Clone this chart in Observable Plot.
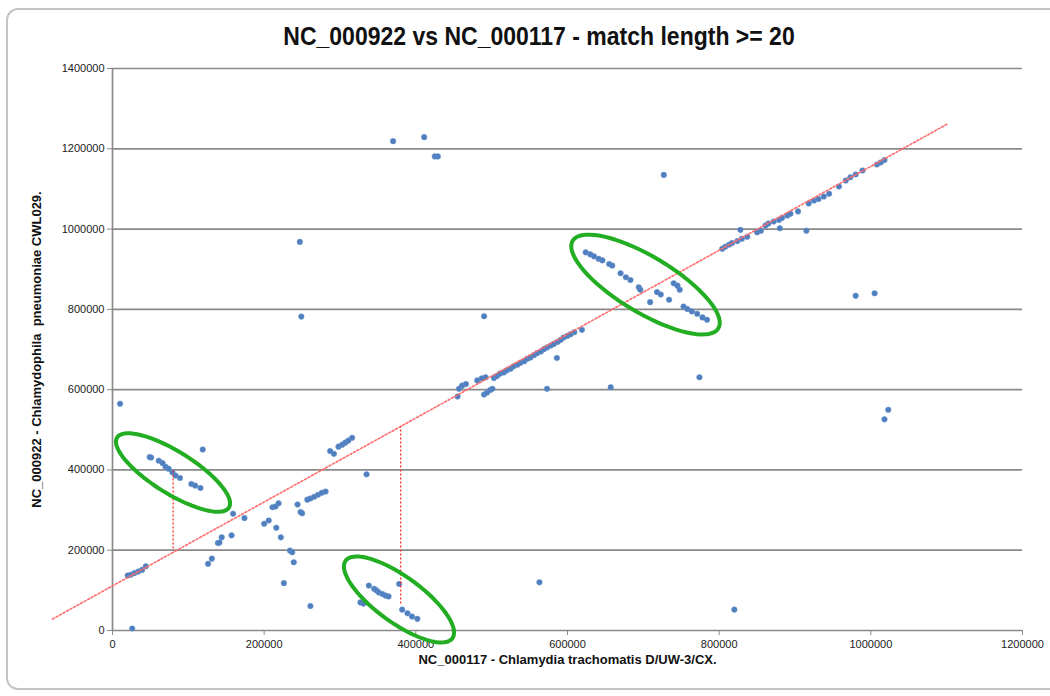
<!DOCTYPE html>
<html><head><meta charset="utf-8">
<script src="https://cdn.jsdelivr.net/npm/d3@7"></script>
<script src="https://cdn.jsdelivr.net/npm/@observablehq/plot@0.6"></script>
<style>
body{margin:0;background:#fff;}
#wrap{position:relative;width:1050px;height:696px;overflow:hidden;font-family:"Liberation Sans",Arial,sans-serif;}
#frame{position:absolute;left:6px;top:8px;width:1070px;height:682px;border:2px solid #c4c4c4;border-radius:12px;box-sizing:border-box;}
#title{position:absolute;left:0;top:22px;width:1078px;text-align:center;font-weight:bold;font-size:25px;color:#111;transform:scaleX(0.92);transform-origin:539px 0;}
#chart{position:absolute;left:0;top:0;}
</style></head>
<body>
<div id="wrap"><div id="frame"></div><div id="title">NC_000922 vs NC_000117 - match length &gt;= 20</div><div id="chart"></div></div>
<script>
// ---- data (x = position in NC_000117, y = position in NC_000922) ----
const xTicks = [0, 200000, 400000, 600000, 800000, 1000000, 1200000];
const yTicks = [0, 200000, 400000, 600000, 800000, 1000000, 1200000, 1400000];
const xTitle = "NC_000117 - Chlamydia trachomatis D/UW-3/CX.";
const yTitle = "NC_000922 - Chlamydophila  pneumoniae CWL029.";

const lowLeft = [[10000,565000],[20000,137000],[24000,139000],[29000,143000],[34000,147000],[39000,151000],[44000,160000],[26000,5000]];
const invertedA = [[49000,432000],[51000,431000],[61000,423000],[66000,417000],[70000,408000],[74000,403000],[79000,394000],[83000,386000],[89000,380000],[104000,365000],[109000,361000],[116000,355000]];
const leftScatter = [[119000,451000],[159000,291000],[174000,280000],[139000,218000],[141000,219000],[144000,232000],[157000,237000],[126000,166000],[131000,179000],
  [200000,266000],[206000,274000],[211000,307000],[215000,309000],[219000,317000],[216000,256000],[222000,232000],[234000,199000],[237000,195000],[239000,170000],
  [226000,118000],[261000,61000],[244000,314000],[248000,295000],[250000,292000],
  [257000,326000],[261000,329000],[266000,333000],[271000,338000],[276000,343000],[281000,346000],
  [287000,447000],[292000,440000],[298000,458000],[303000,463000],[307000,468000],[311000,473000],[316000,480000],[335000,389000]];
const invertedB = [[338000,112000],[345000,104000],[348000,100000],[351000,95000],[356000,91000],[360000,87000],[364000,85000],[327000,70000],[331000,67000],[378000,116000],
  [382000,52000],[389000,43000],[395000,35000],[402000,29000]];
const midScatter = [[490000,783000],[455000,583000],[457000,602000],[461000,610000],[466000,614000],[481000,623000],[487000,628000],[492000,631000],
  [490000,588000],[494000,593000],[498000,599000],[501000,602000],[586000,679000],[573000,602000],[657000,606000],[619000,749000],[774000,631000],[563000,120000],[820000,52000]];
const midDiagonal = [[503000,629000],[507000,634000],[511000,640000],[516000,643000],[520000,648000],[525000,652000],[529000,658000],[534000,662000],[538000,667000],
  [543000,671000],[547000,677000],[551000,680000],[556000,686000],[560000,691000],[565000,695000],[569000,701000],[573000,705000],[578000,710000],[582000,714000],
  [587000,719000],[591000,724000],[595000,730000],[600000,734000],[604000,738000],[609000,743000]];
const invertedC = [[624000,942000],[630000,937000],[635000,932000],[641000,926000],[646000,922000],[655000,913000],[659000,909000],[670000,890000],[677000,880000],
  [683000,873000],[694000,855000],[696000,849000],[709000,818000],[718000,843000],[723000,837000],[734000,824000],[740000,865000],[745000,859000],[748000,849000],
  [753000,807000],[758000,801000],[764000,795000],[771000,789000],[778000,780000],[784000,774000]];
const upperDiagonal = [[804000,951000],[808000,956000],[813000,961000],[817000,965000],[824000,970000],[830000,976000],[837000,981000],[850000,992000],[855000,996000],
  [861000,1009000],[865000,1014000],[872000,1019000],[879000,1023000],[883000,1028000],[890000,1034000],[894000,1038000],[904000,1044000],[918000,1064000],
  [925000,1071000],[931000,1075000],[938000,1081000],[945000,1088000],[958000,1106000],[967000,1121000],[973000,1129000],[980000,1136000],[989000,1146000],
  [1008000,1161000],[1013000,1166000],[1018000,1172000]];
const rightScatter = [[727000,1135000],[828000,998000],[880000,1002000],[915000,996000],[980000,834000],[1005000,840000],[1023000,550000],[1018000,526000],
  [370000,1219000],[411000,1229000],[425000,1181000],[429000,1181000],[247000,968000],[249000,782000]];

// trend line and guide lines (annotation)
const trendX = [-79000, 1102000];
const trendY = [28600, 1262800];
const guideX = [80000, 380000];
const guideLow = [203000, 66000];
const guideHigh = [398000, 508000];
// highlighted inversions: centre in data units
const ringCX = [79800, 377800, 702900];
const ringCY = [393500, 77200, 861800];

// ---- layout ----
const W = 1050, H = 696, mL = 112, mR = 28, mT = 68, mB = 66;
const ringShape = [{a:66,b:21,deg:32},{a:66,b:23,deg:36},{a:85,b:28,deg:31}]; // pixels

const points = [lowLeft, invertedA, leftScatter, invertedB, midScatter, midDiagonal, invertedC, upperDiagonal, rightScatter]
  .flat().map(([x, y]) => ({x, y}));
const trend = trendX.map((x, i) => ({x, y: trendY[i]}));
const guides = guideX.map((x, i) => ({x, y1: guideLow[i], y2: guideHigh[i]}));

const uX = (xTicks[xTicks.length-1] - xTicks[0]) / (W - mL - mR);
const uY = (yTicks[yTicks.length-1] - yTicks[0]) / (H - mT - mB);
const rings = [];
ringCX.forEach((cx, k) => {
  const {a, b, deg} = ringShape[k];
  const th = deg * Math.PI / 180;
  for (let i = 0; i < 72; i++) {
    const t = i / 72 * 2 * Math.PI;
    const px = a * Math.cos(t) * Math.cos(th) - b * Math.sin(t) * Math.sin(th);
    const py = a * Math.cos(t) * Math.sin(th) + b * Math.sin(t) * Math.cos(th);
    rings.push({id: k, x: cx + px * uX, y: ringCY[k] - py * uY});
  }
});

const fmt = d3.format("d");
const chart = Plot.plot({
  width: W, height: H,
  marginLeft: mL, marginRight: mR, marginTop: mT, marginBottom: mB,
  style: {fontFamily: '"Liberation Sans", Arial, sans-serif', fontSize: "11px", color: "#222", background: "transparent", overflow: "visible"},
  x: {domain: [0, 1200000]},
  y: {domain: [0, 1400000]},
  marks: [
    Plot.gridY(yTicks, {stroke: "#8a8a8a", strokeOpacity: 1, strokeWidth: 1.7}),
    Plot.ruleX([0], {stroke: "#8a8a8a", strokeWidth: 1.7}),
    Plot.axisX({ticks: xTicks, tickFormat: fmt, tickSize: 5, tickPadding: 5, stroke: "#8a8a8a", label: null, fill: "#222"}),
    Plot.axisY({ticks: yTicks, tickFormat: fmt, tickSize: 5, tickPadding: 3, stroke: "#8a8a8a", label: null, fill: "#222"}),
    Plot.text([xTitle], {frameAnchor: "bottom", textAnchor: "middle", lineAnchor: "middle", dy: 29, fontWeight: "bold", fontSize: 13, fill: "#111"}),
    Plot.text([yTitle], {frameAnchor: "left", textAnchor: "middle", lineAnchor: "middle", dx: -76, rotate: -90, fontWeight: "bold", fontSize: 13, fill: "#111"}),
    Plot.dot(points, {x: "x", y: "y", r: 2.8, fill: "#4f7fbf", stroke: "#6b95cc", strokeWidth: 0.5}),
    Plot.line(trend, {x: "x", y: "y", stroke: "#ff6a6a", strokeWidth: 1.6, strokeDasharray: "2,2"}),
    Plot.ruleX(guides, {x: "x", y1: "y1", y2: "y2", stroke: "#ff3030", strokeWidth: 1.3, strokeDasharray: "2,2"}),
    Plot.line(rings, {x: "x", y: "y", z: "id", curve: "linear-closed", stroke: "#22ad22", strokeWidth: 4})
  ]
});
document.getElementById("chart").appendChild(chart);
</script>
</body></html>
